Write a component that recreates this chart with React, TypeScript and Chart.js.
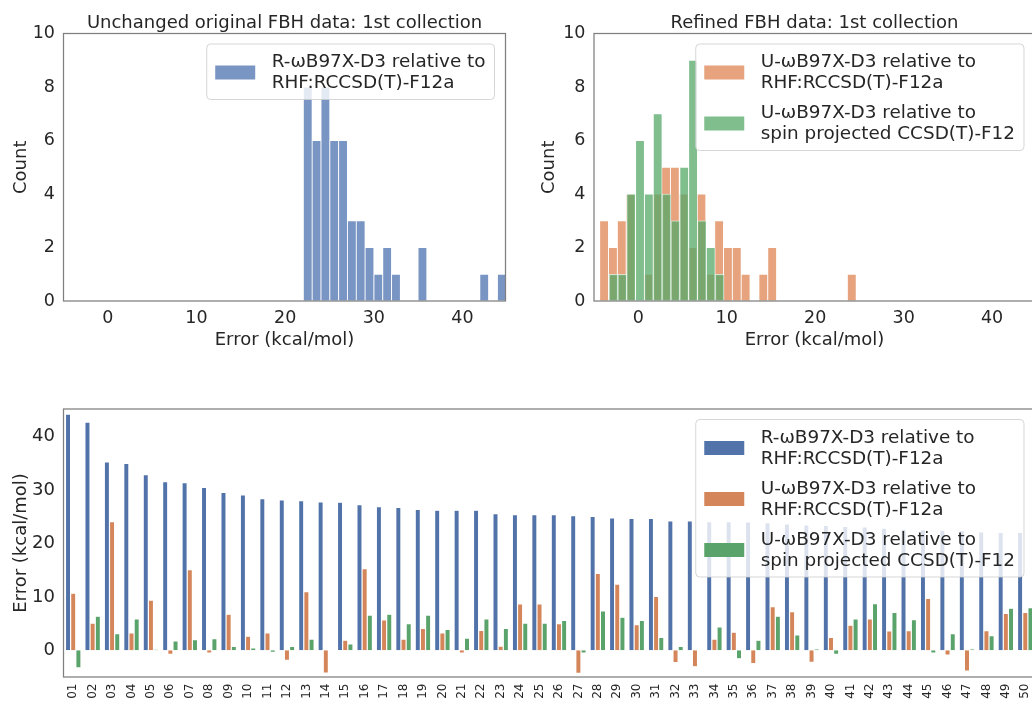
import React, { useEffect, useRef } from "react";
import { Chart, registerables } from "chart.js";

Chart.register(...registerables);

const FONT = "'DejaVu Sans', 'Liberation Sans', sans-serif";
const INK = "#262626";
const FRAME = "#7f7f7f";

// ---------------- Texts ----------------
const LABEL_R_RHF = "R-ωB97X-D3 relative to\nRHF:RCCSD(T)-F12a";
const LABEL_U_RHF = "U-ωB97X-D3 relative to\nRHF:RCCSD(T)-F12a";
const LABEL_U_SP = "U-ωB97X-D3 relative to\nspin projected CCSD(T)-F12";
const TITLE_LEFT = "Unchanged original FBH data: 1st collection";
const TITLE_RIGHT = "Refined FBH data: 1st collection";
const X_TITLE_HIST = "Error (kcal/mol)";
const Y_TITLE_HIST = "Count";
const Y_TITLE_BAR = "Error (kcal/mol)";

// ---------------- Ticks ----------------
const HIST_X_MIN = -5;
const HIST_X_MAX = 44.85;
const HIST_X_TICKS = [0, 10, 20, 30, 40];
const HIST_Y_TICKS = [0, 2, 4, 6, 8, 10];
const BAR_Y_MIN = -5;
const BAR_Y_MAX = 45.2;
const BAR_Y_TICKS = [0, 10, 20, 30, 40];

// ---------------- Histogram bins ----------------
const HIST_R_RHF_START = 22.05;
const HIST_R_RHF_WIDTH = 0.995;
const HIST_R_RHF_COUNTS = [8, 6, 8, 6, 6, 3, 3, 2, 1, 2, 1, 0, 0, 2, 0, 0, 0, 0, 0, 0, 1, 0, 1];

const HIST_U_RHF_START = -4.36;
const HIST_U_RHF_WIDTH = 1.0;
const HIST_U_RHF_COUNTS = [3, 2, 3, 4, 0, 1, 4, 5, 5, 4, 2, 4, 1, 3, 2, 2, 1, 0, 1, 2, 0, 0, 0, 0, 0, 0, 0, 0, 1];

const HIST_U_SP_START = -3.3;
const HIST_U_SP_WIDTH = 1.0;
const HIST_U_SP_COUNTS = [1, 1, 4, 6, 4, 7, 4, 3, 5, 9, 3, 2, 1];

// ---------------- Per-molecule errors ----------------
const MOLECULES = [
  "01", "02", "03", "04", "05", "06", "07", "08", "09", "10",
  "11", "12", "13", "14", "15", "16", "17", "18", "19", "20",
  "21", "22", "23", "24", "25", "26", "27", "28", "29", "30",
  "31", "32", "33", "34", "35", "36", "37", "38", "39", "40",
  "41", "42", "43", "44", "45", "46", "47", "48", "49", "50",
];
const ERR_R_RHF = [
  44.25, 42.75, 35.3, 35.0, 32.9, 31.6, 31.4, 30.5, 29.6, 29.1,
  28.4, 28.15, 28.05, 27.8, 27.75, 27.3, 26.9, 26.75, 26.4, 26.25,
  26.25, 26.25, 25.6, 25.4, 25.4, 25.4, 25.2, 25.1, 24.8, 24.7,
  24.7, 24.25, 24.25, 24.1, 24.1, 24.05, 23.9, 23.7, 23.5, 23.4,
  23.2, 23.1, 22.9, 22.7, 22.6, 22.5, 22.4, 22.2, 22.1, 22.1,
];
const ERR_U_RHF = [
  10.7, 5.1, 24.1, 3.25, 9.4, -0.75, 15.1, -0.5, 6.75, 2.65,
  3.25, -1.9, 11.0, -4.25, 1.9, 15.3, 5.7, 2.1, 4.1, 3.25,
  -0.5, 3.75, 0.8, 8.7, 8.7, 5.0, -4.3, 14.4, 12.4, 4.8,
  10.1, -2.3, -3.1, 2.1, 3.4, -2.5, 8.2, 7.25, -2.25, 2.4,
  4.7, 5.9, 3.65, 3.7, 9.7, -0.9, -3.9, 3.7, 6.9, 7.1,
];
const ERR_U_SP = [
  -3.3, 6.4, 3.1, 5.9, 0.2, 1.75, 2.0, 2.2, 0.75, 0.44,
  -0.4, 0.75, 2.1, 0.0, 1.2, 6.6, 6.75, 5.0, 6.6, 3.9,
  2.3, 5.9, 4.1, 5.1, 5.1, 5.6, -0.5, 7.4, 6.2, 5.6,
  2.4, 0.75, 0.05, 4.4, -1.6, 1.9, 6.4, 2.9, 0.25, -0.75,
  5.9, 8.75, 7.1, 5.75, -0.5, 3.1, 0.25, 2.75, 7.9, 8.0,
];

// ---------------- Colours ----------------
const HIST_BLUE = "rgba(76,114,176,0.75)";
const HIST_ORANGE = "rgba(221,132,82,0.75)";
const HIST_GREEN = "rgba(85,168,104,0.75)";
const BAR_BLUE = "#5273AA";
const BAR_ORANGE = "#D4865A";
const BAR_GREEN = "#5AA36B";

const binPoints = (start: number, width: number, counts: number[]) =>
  counts.map((c, i) => ({ x: start + (i + 0.5) * width, y: c }));

// Frame around the axes + matplotlib-like legend in the upper right
const frameLegendPlugin = {
  id: "frameLegend",
  afterDatasetsDraw(chart: any) {
    const { ctx, chartArea: a } = chart;
    ctx.save();
    ctx.strokeStyle = FRAME;
    ctx.lineWidth = 1.25;
    ctx.strokeRect(a.left, a.top, a.right - a.left, a.bottom - a.top);

    const items = chart.data.datasets.map((ds: any) => ({
      lines: String(ds.label).split("\n"),
      color: ds.backgroundColor,
    }));
    ctx.font = `18.4px ${FONT}`;
    let maxW = 0;
    items.forEach((it: any) =>
      it.lines.forEach((t: string) => {
        maxW = Math.max(maxW, ctx.measureText(t).width);
      })
    );
    const boxW = 65 + maxW + 9;
    const right = a.right - 11;
    const top = a.top + 10.5;
    const left = right - boxW;
    const lineGap = 21;
    const entryGap = 51;
    const firstBase = top + 23;
    const lastBase = firstBase + (items.length - 1) * entryGap + lineGap;
    const bottom = lastBase + 11.5;

    ctx.beginPath();
    ctx.roundRect(left, top, boxW, bottom - top, 4);
    ctx.fillStyle = "rgba(255,255,255,0.8)";
    ctx.fill();
    ctx.strokeStyle = "rgba(204,204,204,0.8)";
    ctx.lineWidth = 1;
    ctx.stroke();

    items.forEach((it: any, i: number) => {
      const b1 = firstBase + i * entryGap;
      const b2 = b1 + lineGap;
      const cy = (b1 + b2) / 2 - 5;
      ctx.fillStyle = it.color;
      ctx.fillRect(left + 8.5, cy - 7, 40, 14);
      ctx.fillStyle = INK;
      ctx.textAlign = "left";
      ctx.textBaseline = "alphabetic";
      it.lines.forEach((t: string, k: number) => ctx.fillText(t, left + 65, k === 0 ? b1 : b2));
    });
    ctx.restore();
  },
};

const tickFont = (size: number) => ({ family: FONT, size });
const titleFont = { family: FONT, size: 18, lineHeight: 1, weight: "normal" as const };

function histScales(yAxisWidth: number, yTitlePad: number) {
  return {
    x: {
      type: "linear",
      offset: false,
      min: HIST_X_MIN,
      max: HIST_X_MAX,
      afterBuildTicks: (s: any) => {
        s.ticks = HIST_X_TICKS.map((v) => ({ value: v }));
      },
      afterFit: (s: any) => {
        s.height = 59;
      },
      grid: { display: false, drawTicks: false, offset: false },
      border: { display: false },
      ticks: { color: INK, font: tickFont(17.5), padding: 6.5, maxRotation: 0, autoSkip: false },
      title: { display: true, text: X_TITLE_HIST, color: INK, font: titleFont, padding: { top: 0, bottom: 10.5 } },
    },
    y: {
      min: 0,
      max: 10,
      afterBuildTicks: (s: any) => {
        s.ticks = HIST_Y_TICKS.map((v) => ({ value: v }));
      },
      afterFit: (s: any) => {
        s.width = yAxisWidth;
      },
      grid: { display: false, drawTicks: false },
      border: { display: false },
      ticks: { color: INK, font: tickFont(17.5), padding: 8.5 },
      title: { display: true, text: Y_TITLE_HIST, color: INK, font: titleFont, padding: { top: yTitlePad, bottom: 0 } },
    },
  };
}

const histTitle = (text: string) => ({
  display: true,
  text,
  color: INK,
  font: titleFont,
  padding: { top: 14.8, bottom: 0.7 },
  fullSize: false,
});

function buildLeft(): any {
  return {
    type: "bar",
    data: {
      datasets: [
        {
          label: LABEL_R_RHF,
          data: binPoints(HIST_R_RHF_START, HIST_R_RHF_WIDTH, HIST_R_RHF_COUNTS),
          backgroundColor: HIST_BLUE,
          borderColor: "rgba(255,255,255,0.8)",
          borderWidth: 0.8,
          borderSkipped: false,
          barPercentage: 1,
          categoryPercentage: 1,
        },
      ],
    },
    options: {
      responsive: false,
      animation: false,
      devicePixelRatio: 1,
      events: [],
      layout: { padding: { left: 0, right: 14.5, top: 0, bottom: 0 } },
      plugins: { legend: { display: false }, tooltip: { enabled: false }, title: histTitle(TITLE_LEFT) },
      scales: histScales(63.5, 12),
    },
    plugins: [frameLegendPlugin],
  };
}

function buildRight(): any {
  const scales: any = histScales(74, 20);
  scales.x2 = { type: "linear", axis: "x", display: false, offset: false, min: HIST_X_MIN, max: HIST_X_MAX };
  return {
    type: "bar",
    data: {
      datasets: [
        {
          label: LABEL_U_RHF,
          data: binPoints(HIST_U_RHF_START, HIST_U_RHF_WIDTH, HIST_U_RHF_COUNTS),
          backgroundColor: HIST_ORANGE,
          borderColor: "rgba(255,255,255,0.8)",
          borderWidth: 0.8,
          borderSkipped: false,
          barPercentage: 1,
          categoryPercentage: 1,
          grouped: false,
          xAxisID: "x",
          order: 1,
        },
        {
          label: LABEL_U_SP,
          data: binPoints(HIST_U_SP_START, HIST_U_SP_WIDTH, HIST_U_SP_COUNTS),
          backgroundColor: HIST_GREEN,
          borderColor: "rgba(255,255,255,0.8)",
          borderWidth: 0.8,
          borderSkipped: false,
          barPercentage: 1,
          categoryPercentage: 1,
          grouped: false,
          xAxisID: "x2",
          order: 0,
        },
      ],
    },
    options: {
      responsive: false,
      animation: false,
      devicePixelRatio: 1,
      events: [],
      layout: { padding: { left: 0, right: 15, top: 0, bottom: 0 } },
      plugins: { legend: { display: false }, tooltip: { enabled: false }, title: histTitle(TITLE_RIGHT) },
      scales,
    },
    plugins: [frameLegendPlugin],
  };
}

function buildBottom(): any {
  const common = {
    borderColor: "rgba(255,255,255,0.85)",
    borderWidth: 0.6,
    categoryPercentage: 0.8,
    barPercentage: 1,
  };
  return {
    type: "bar",
    data: {
      labels: MOLECULES,
      datasets: [
        { label: LABEL_R_RHF, data: ERR_R_RHF, backgroundColor: BAR_BLUE, ...common },
        { label: LABEL_U_RHF, data: ERR_U_RHF, backgroundColor: BAR_ORANGE, ...common },
        { label: LABEL_U_SP, data: ERR_U_SP, backgroundColor: BAR_GREEN, ...common },
      ],
    },
    options: {
      responsive: false,
      animation: false,
      devicePixelRatio: 1,
      events: [],
      layout: { padding: { left: 0, right: 15, top: 29, bottom: 0 } },
      plugins: { legend: { display: false }, tooltip: { enabled: false }, title: { display: false } },
      scales: {
        x: {
          type: "category",
          grid: { display: false, drawTicks: false },
          border: { display: false },
          ticks: { color: INK, font: tickFont(12), padding: 6.5, minRotation: 90, maxRotation: 90, autoSkip: false },
          afterFit: (s: any) => {
            s.height = 25;
          },
        },
        y: {
          min: BAR_Y_MIN,
          max: BAR_Y_MAX,
          afterBuildTicks: (s: any) => {
            s.ticks = BAR_Y_TICKS.map((v) => ({ value: v }));
          },
          afterFit: (s: any) => {
            s.width = 63.5;
          },
          grid: { display: false, drawTicks: false },
          border: { display: false },
          ticks: { color: INK, font: tickFont(18), padding: 8.5 },
          title: { display: true, text: Y_TITLE_BAR, color: INK, font: titleFont, padding: { top: 12.7, bottom: 0 } },
        },
      },
    },
    plugins: [frameLegendPlugin],
  };
}

function ChartCanvas(props: { left: number; top: number; width: number; height: number; build: () => any }) {
  const ref = useRef<HTMLCanvasElement>(null);
  useEffect(() => {
    const chart = new Chart(ref.current as HTMLCanvasElement, props.build());
    return () => chart.destroy();
  }, []);
  return (
    <canvas
      ref={ref}
      width={props.width}
      height={props.height}
      style={{ position: "absolute", left: props.left, top: props.top, width: props.width, height: props.height }}
    />
  );
}

export default function App() {
  return (
    <div
      style={{
        position: "fixed",
        left: 0,
        top: 0,
        width: 1032,
        height: 702,
        overflow: "hidden",
        background: "#ffffff",
      }}
    >
      <ChartCanvas left={0} top={0} width={520} height={360} build={buildLeft} />
      <ChartCanvas left={520} top={0} width={530} height={360} build={buildRight} />
      <ChartCanvas left={0} top={380} width={1050} height={322} build={buildBottom} />
    </div>
  );
}
